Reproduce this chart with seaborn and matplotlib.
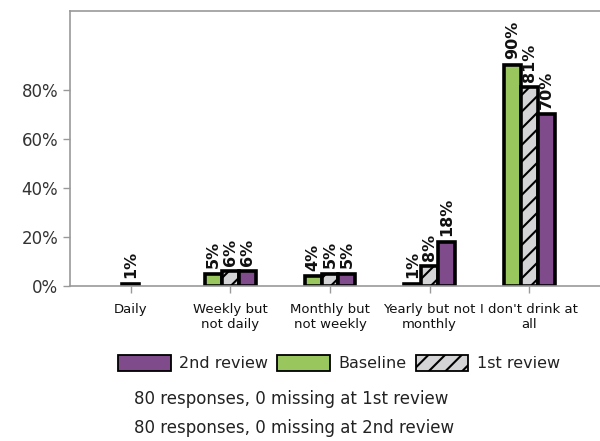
import matplotlib
matplotlib.use("Agg")
import matplotlib.pyplot as plt
import pandas as pd
import seaborn as sns
from matplotlib.patches import Patch

# Datos
categorias = ["Daily", "Weekly but\nnot daily", "Monthly but\nnot weekly",
              "Yearly but not\nmonthly", "I don't drink at\nall"]
series = ["Baseline", "1st review", "2nd review"]
baseline = [None, 5, 4, 1, 90]
primera = [None, 6, 5, 8, 81]
segunda = [None, 6, 5, 18, 70]
diario_segunda = [1]  # solo hay dato en la 2nd review para "Daily"
notas = ["80 responses, 0 missing at 1st review",
         "80 responses, 0 missing at 2nd review"]

colores = {"Baseline": "#9AC65E", "1st review": "#D4D4D6", "2nd review": "#7F4B8B"}

filas = []
for serie, valores in zip(series, [baseline, primera, segunda]):
    for cat, v in zip(categorias, valores):
        if v is not None:
            filas.append({"Categoria": cat, "Serie": serie, "Valor": v})
df = pd.DataFrame(filas)
df_diario = pd.DataFrame({"Categoria": [categorias[0]], "Valor": diario_segunda})

sns.set_style("white")
plt.rcParams["font.family"] = ["DejaVu Sans"]
plt.rcParams["hatch.linewidth"] = 1.5

fig = plt.figure(figsize=(6, 4.41), dpi=100)
ax = fig.add_axes([70 / 600, 1 - 286 / 441, 530 / 600, 275 / 441])

sns.barplot(data=df, x="Categoria", y="Valor", hue="Serie", order=categorias,
            hue_order=series, palette=colores, width=0.51, ax=ax,
            edgecolor="black", linewidth=2.6, legend=False, saturation=1)
sns.barplot(data=df_diario, x="Categoria", y="Valor", order=categorias,
            color=colores["2nd review"], width=0.17, ax=ax,
            edgecolor="black", linewidth=2.6, saturation=1)

for i, cont in enumerate(ax.containers):
    if i == 1:  # 1st review con rayado
        for barra in cont:
            barra.set_hatch("//")
    ax.bar_label(cont, fmt="{:.0f}%", rotation=90, padding=4,
                 fontsize=11.5, fontweight="bold", color="#111111")

ax.set_xlim(-0.61, 4.71)
ax.set_ylim(0, 112)
ax.set_yticks([0, 20, 40, 60, 80])
ax.set_yticklabels([f"{t}%" for t in [0, 20, 40, 60, 80]], fontsize=12, color="#333333")
ax.set_xticklabels(categorias, fontsize=9.5, color="#111111")
ax.set_xlabel("")
ax.set_ylabel("")
ax.tick_params(axis="both", length=5, width=1, color="#999999", bottom=True, left=True)
ax.tick_params(axis="x", pad=7)
for lado in ["left", "bottom", "top"]:
    ax.spines[lado].set_color("#999999")
    ax.spines[lado].set_linewidth(1.2)
ax.spines["right"].set_visible(False)

# Leyenda
handles = [
    Patch(facecolor=colores["2nd review"], edgecolor="black", linewidth=1.3),
    Patch(facecolor=colores["Baseline"], edgecolor="black", linewidth=1.3),
    Patch(facecolor=colores["1st review"], edgecolor="black", linewidth=1.3, hatch="//"),
]
fig.legend(handles, ["2nd review", "Baseline", "1st review"], ncol=3,
           loc="center", bbox_to_anchor=(339 / 600, 1 - 363 / 441), frameon=False,
           fontsize=11.5, handlelength=3.3, handleheight=1.25, handletextpad=0.55,
           columnspacing=0.55, labelcolor="#222222")

fig.text(134 / 600, 1 - 399 / 441, notas[0], fontsize=12, va="center", color="#222222")
fig.text(134 / 600, 1 - 428 / 441, notas[1], fontsize=12, va="center", color="#222222")

plt.savefig("out.png", dpi=100)
plt.close()
